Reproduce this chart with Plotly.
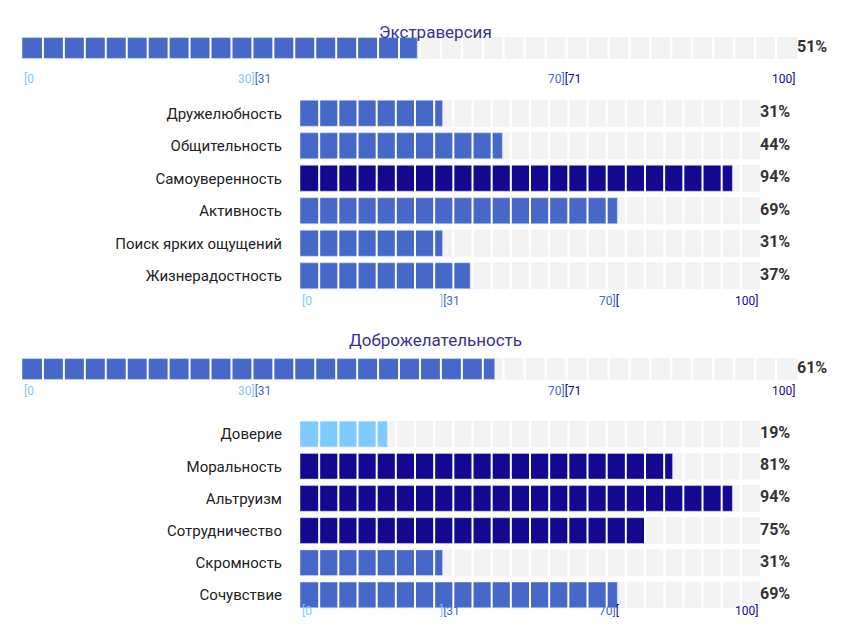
import plotly.graph_objects as go

# la page ajoute une marge de 8 px : on dessine dans une zone réduite
O = 8
W, H = 857 - O, 643 - O

# données
titre_1 = "Экстраверсия"
score_1 = 51
facettes_1 = ["Дружелюбность", "Общительность", "Самоуверенность", "Активность",
              "Поиск ярких ощущений", "Жизнерадостность"]
valeurs_1 = [31, 44, 94, 69, 31, 37]

titre_2 = "Доброжелательность"
score_2 = 61
facettes_2 = ["Доверие", "Моральность", "Альтруизм", "Сотрудничество", "Скромность", "Сочувствие"]
valeurs_2 = [19, 81, 94, 75, 31, 69]

BAS, MOY, HAUT = "#7fcaff", "#4668c8", "#150890"
FOND = "#f3f3f3"


def couleur(v):
    if v <= 30:
        return BAS
    if v <= 70:
        return MOY
    return HAUT


def px_y(top, bottom):
    return [1 - (bottom - O) / H, 1 - (top - O) / H]


def px_x(left, right):
    return [(left - O) / W, (right - O) / W]


fig = go.Figure()

# panneaux : (axe, domaine x, domaine y, nb segments)
panneaux = [
    ("", px_x(22, 797), px_y(35, 61), 37),
    ("2", px_x(300, 760), px_y(97, 292), 24),
    ("3", px_x(22, 797), px_y(356, 382), 37),
    ("4", px_x(300, 760), px_y(418, 611), 24),
]

donnees = [([titre_1], [score_1]), (facettes_1, valeurs_1), ([titre_2], [score_2]), (facettes_2, valeurs_2)]

for (ax, dx, dy, nseg), (noms, vals) in zip(panneaux, donnees):
    xa, ya = "x" + ax, "y" + ax
    grand = len(noms) == 1
    fig.add_trace(go.Bar(y=noms, x=[100] * len(noms), orientation="h", marker_color=FOND,
                         width=0.8, showlegend=False, hoverinfo="skip", xaxis=xa, yaxis=ya))
    fig.add_trace(go.Bar(y=noms, x=vals, orientation="h", marker_color=[couleur(v) for v in vals],
                         width=0.8, showlegend=False, xaxis=xa, yaxis=ya))
    # pourcentages
    fig.add_trace(go.Scatter(y=noms, x=[100] * len(noms), mode="text",
                             text=["<b>%d%%</b>" % v for v in vals], textposition="middle right",
                             textfont=dict(size=16, color="#333"), cliponaxis=False,
                             showlegend=False, hoverinfo="skip", xaxis=xa, yaxis=ya))
    fig.update_layout({
        "xaxis" + ax: dict(domain=dx, range=[0, 100], showgrid=False, zeroline=False,
                           showticklabels=False, anchor=ya, fixedrange=True),
        "yaxis" + ax: dict(domain=dy, autorange="reversed", showgrid=False, zeroline=False,
                           showticklabels=not grand, ticks="outside", ticklen=14, tickcolor="rgba(0,0,0,0)",
                           tickfont=dict(size=15, color="#222"), anchor=xa, fixedrange=True),
    })
    # séparateurs blancs des segments
    for i in range(1, nseg):
        xv = 100 * i / nseg
        fig.add_shape(type="line", xref=xa, yref=ya + " domain", x0=xv, x1=xv, y0=0, y1=1,
                      line=dict(color="white", width=2), layer="above")
    # graduations
    sous = dy[0] - 9 / H
    if grand:
        grad = [(0, "left", f"<span style='color:{BAS}'>[0</span>"),
                (30, "center", f"<span style='color:{BAS}'>30]</span><span style='color:{MOY}'>[31</span>"),
                (70, "center", f"<span style='color:{MOY}'>70]</span><span style='color:{HAUT}'>[71</span>"),
                (100, "right", f"<span style='color:{HAUT}'>100]</span>")]
    else:
        grad = [(0, "left", f"<span style='color:{BAS}'>[0</span>"),
                (30, "left", f"<span style='color:{BAS}'>]</span><span style='color:{MOY}'>[31</span>"),
                (70, "right", f"<span style='color:{MOY}'>70]</span><span style='color:{HAUT}'>[</span>"),
                (100, "right", f"<span style='color:{HAUT}'>100]</span>")]
    for xv, anc, txt in grad:
        fig.add_annotation(text=txt, xref=xa, yref="paper", x=xv, y=sous, xanchor=anc,
                           showarrow=False, font=dict(size=12))

for titre, ypx in [(titre_1, 20), (titre_2, 340)]:
    fig.add_annotation(text=titre, xref="paper", yref="paper", x=(435 - O) / W, y=1 - (ypx - O) / H,
                       showarrow=False, font=dict(size=17, color="#3b2f8f"))

fig.update_layout(width=W, height=H, margin=dict(l=0, r=0, t=0, b=0), barmode="overlay",
                  plot_bgcolor="white", paper_bgcolor="white", bargap=0.2,
                  font=dict(family="Roboto"))

fig.write_html("out.html")
